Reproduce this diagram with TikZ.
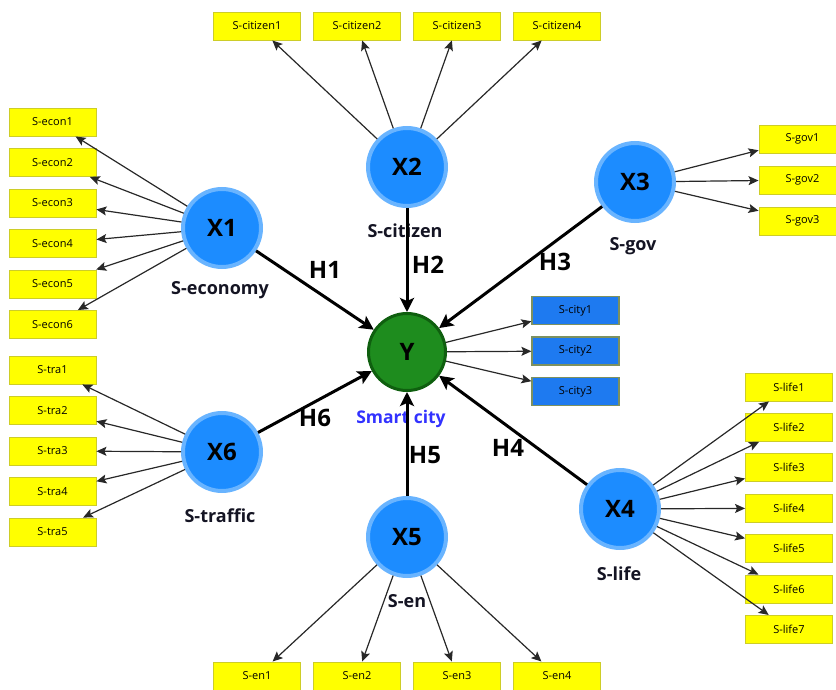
\documentclass[tikz,border=0pt]{standalone}
\usepackage{fontspec}
\setmainfont{Open Sans}
\usetikzlibrary{arrows.meta}

\definecolor{latblue}{RGB}{28,140,255}
\definecolor{latring}{RGB}{105,180,255}
\definecolor{ygreen}{RGB}{30,140,30}
\definecolor{ygreenbd}{RGB}{15,95,15}
\definecolor{indyellow}{RGB}{255,255,0}
\definecolor{indyellowbd}{RGB}{205,205,40}
\definecolor{cityblue}{RGB}{30,122,240}
\definecolor{citybd}{RGB}{125,145,95}
\definecolor{loadgray}{RGB}{40,40,40}
\definecolor{smartblue}{RGB}{50,50,255}
\definecolor{labeldark}{RGB}{20,20,35}

\tikzset{
  latent/.style={circle, fill=latblue, draw=latring, line width=4pt,
    minimum size=78pt, inner sep=0pt, text=black,
    font=\fontsize{24}{24}\selectfont\bfseries},
  target/.style={circle, fill=ygreen, draw=ygreenbd, line width=3pt,
    minimum size=77pt, inner sep=0pt, text=black,
    font=\fontsize{24}{24}\selectfont\bfseries},
  indicator/.style={rectangle, fill=indyellow, draw=indyellowbd, line width=0.9pt,
    minimum width=87pt, minimum height=28pt, inner sep=0pt,
    font=\fontsize{11}{12}\selectfont},
  cityind/.style={indicator, fill=cityblue, draw=citybd, line width=1.2pt},
  latname/.style={text=labeldark, font=\fontsize{18}{18}\selectfont\bfseries},
  hyp/.style={text=black, font=\fontsize{24}{24}\selectfont\bfseries},
  loading/.style={draw=loadgray, line width=1.2pt,
    -{Stealth[length=10pt,width=9pt,inset=2pt]}},
  structural/.style={draw=black, line width=3pt,
    -{Stealth[length=14pt,width=14pt,inset=3pt]}}
}

\begin{document}
\begin{tikzpicture}[x=1pt,y=-1pt]
\useasboundingbox (0,0) rectangle (836,690);

% latent constructs
\node[latent] (X1) at (222,228) {X1};
\node[latent] (X2) at (407,167) {X2};
\node[latent] (X3) at (635,182) {X3};
\node[latent] (X4) at (620,509) {X4};
\node[latent] (X5) at (407,537) {X5};
\node[latent] (X6) at (222,452) {X6};
\node[target] (Y)  at (407,352) {Y};

% construct names
\node[latname] (nX1) at (220,290) {S-economy};
\node[latname] (nX2) at (405,231) {S-citizen};
\node[latname] (nX3) at (633,246) {S-gov};
\node[latname] (nX4) at (619,574) {S-life};
\node[latname] (nX5) at (407,601) {S-en};
\node[latname] (nX6) at (220,516) {S-traffic};
\node[text=smartblue, font=\fontsize{17.5}{18}\selectfont\bfseries] (nY) at (401,419) {Smart city};

% indicators
\foreach \i in {1,...,6}
  \node[indicator] (econ\i) at (52.5,{122+40.5*(\i-1)}) {S-econ\i};
\foreach \i in {1,...,5}
  \node[indicator] (tra\i) at (52.5,{370+40.5*(\i-1)}) {S-tra\i};
\foreach \i/\x in {1/257,2/357,3/457,4/557}
  \node[indicator] (cit\i) at (\x,26) {S-citizen\i};
\foreach \i/\x in {1/257,2/357,3/457,4/557}
  \node[indicator] (en\i) at (\x,676) {S-en\i};
\foreach \i in {1,2,3}
  \node[indicator] (gov\i) at (802.5,{139+41*(\i-1)}) {S-gov\i};
\foreach \i in {1,2,3}
  \node[cityind] (city\i) at (575.5,{310.5+40.5*(\i-1)}) {S-city\i};
\foreach \i in {1,...,7}
  \node[indicator] (life\i) at (789,{387+40.4*(\i-1)}) {S-life\i};

% measurement arrows
\foreach \i in {1,...,6} \draw[loading] (X1) -- (econ\i);
\foreach \i in {1,...,5} \draw[loading] (X6) -- (tra\i);
\foreach \i in {1,...,4} \draw[loading] (X2) -- (cit\i);
\foreach \i in {1,...,4} \draw[loading] (X5) -- (en\i);
\foreach \i in {1,2,3} \draw[loading] (X3) -- (gov\i);
\foreach \i in {1,2,3} \draw[loading] (Y) -- (city\i);
\foreach \i in {1,...,7} \draw[loading] (X4) -- (life\i);

% structural paths
\draw[structural] (X1) -- (Y);
\draw[structural] (X2) -- (Y);
\draw[structural] (X3) -- (Y);
\draw[structural] (X4) -- (Y);
\draw[structural] (X5) -- (Y);
\draw[structural] (X6) -- (Y);

% hypothesis labels
\node[hyp] (H1) at (325,270) {H1};
\node[hyp] (H2) at (428,265) {H2};
\node[hyp] (H3) at (555,262) {H3};
\node[hyp] (H4) at (508,448) {H4};
\node[hyp] (H5) at (425,455) {H5};
\node[hyp] (H6) at (315,418) {H6};
\end{tikzpicture}
\end{document}
